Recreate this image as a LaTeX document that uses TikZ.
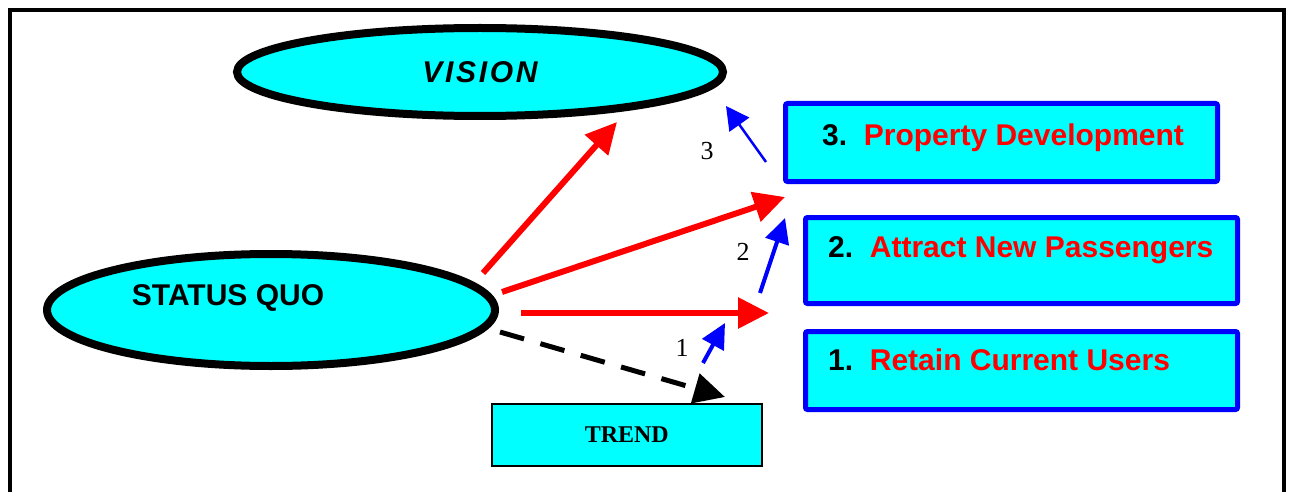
\documentclass[tikz,border=0pt]{standalone}
\usepackage{fontspec}
\setmainfont{Liberation Serif}
\setsansfont{Liberation Sans}
\usetikzlibrary{arrows.meta,shapes.geometric}
\definecolor{cyanfill}{HTML}{00FFFF}
\definecolor{pred}{HTML}{FF0000}
\definecolor{pblue}{HTML}{0000FF}
\tikzset{
  ell/.style={ellipse, draw=black, line width=8pt, fill=cyanfill, inner sep=0pt},
  goalbox/.style={rectangle, draw=pblue, line width=5pt, fill=cyanfill, rounded corners=2pt, inner sep=0pt, anchor=north west},
  trendbox/.style={rectangle, draw=black, line width=1.5pt, fill=cyanfill, inner sep=0pt, anchor=north west},
  bigtxt/.style={font=\sffamily\bfseries\fontsize{30}{36}\selectfont, inner sep=0pt},
  numtxt/.style={font=\rmfamily\fontsize{26}{30}\selectfont, inner sep=0pt},
  redarrow/.style={draw=pred, line width=6pt, -{Triangle[length=31pt,width=30pt]}, fill=pred},
  bluearrow/.style={draw=pblue, line width=4pt, -{Triangle[length=25pt,width=24pt]}, fill=pblue},
  thinblue/.style={draw=pblue, line width=2.5pt, -{Triangle[length=23pt,width=24pt]}, fill=pblue},
  trendarrow/.style={draw=black, line width=5pt, dash pattern=on 25pt off 17pt, -{Triangle[length=31pt,width=30pt]}}
}
\begin{document}
\begin{tikzpicture}[x=1pt,y=-1pt]
\useasboundingbox (0,0) rectangle (1289,492);
% frame
\draw[line width=4pt] (9.5,494) -- (9.5,10) -- (1284,10) -- (1284,494);
% ellipses
\node[ell, minimum width=486pt, minimum height=88pt] (vision) at (480,72)
  {\sffamily\bfseries\itshape\fontsize{30}{36}\selectfont\addfontfeature{LetterSpace=9}VISION};
\node[ell, minimum width=448pt, minimum height=112pt] (sq) at (271,310) {};
\node[bigtxt] (sqtext) at (228,298) {STATUS QUO};
% goal boxes
\node[goalbox, minimum width=432pt, minimum height=78pt] (b3) at (783,101) {};
\node[goalbox, minimum width=432pt, minimum height=86pt] (b2) at (803,215) {};
\node[goalbox, minimum width=432pt, minimum height=78pt] (b1) at (803,329) {};
\node[bigtxt, anchor=base west] (t3) at (822,145) {3.\ \ \textcolor{pred}{Property Development}};
\node[bigtxt, anchor=base west] (t2) at (828,257) {2.\ \ \textcolor{pred}{Attract New Passengers}};
\node[bigtxt, anchor=base west] (t1) at (828,370) {1.\ \ \textcolor{pred}{Retain Current Users}};
% trend
\node[trendbox, minimum width=270pt, minimum height=62pt] (trend) at (491,403)
  {\rmfamily\bfseries\fontsize{24}{28}\selectfont TREND};
% numbers
\node[numtxt] (n1) at (682,348) {1};
\node[numtxt] (n2) at (743,252) {2};
\node[numtxt] (n3) at (707,151) {3};
% connector ends
\coordinate (r1s) at (483,273);
\coordinate (r1e) at (617,122);
\coordinate (r2s) at (502,292);
\coordinate (r2e) at (785,197);
\coordinate (r3s) at (521,313);
\coordinate (r3e) at (769,313);
\coordinate (ds) at (500,332);
\coordinate (de) at (725,397);
\coordinate (b1s) at (703,363);
\coordinate (b1e) at (725,323);
\coordinate (b2s) at (760,293);
\coordinate (b2e) at (785,218);
\coordinate (b3s) at (766,162);
\coordinate (b3e) at (726,106);
% arrows
\draw[redarrow] (r1s) -- (r1e);
\draw[redarrow] (r2s) -- (r2e);
\draw[redarrow] (r3s) -- (r3e);
\draw[trendarrow] (ds) -- (de);
\draw[bluearrow] (b1s) -- (b1e);
\draw[bluearrow] (b2s) -- (b2e);
\draw[thinblue] (b3s) -- (b3e);
\end{tikzpicture}
\end{document}
